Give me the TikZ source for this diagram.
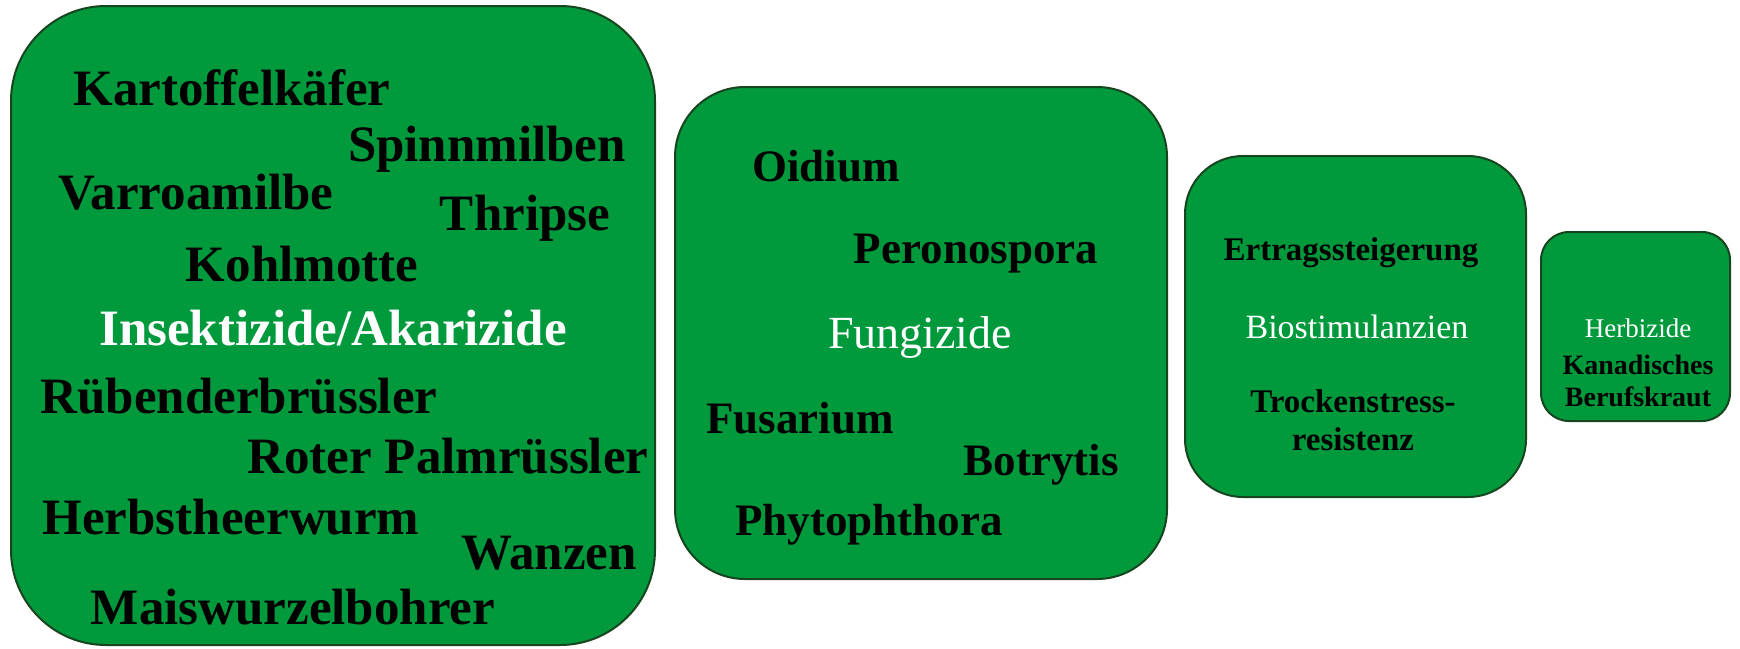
\documentclass[tikz,border=0pt]{standalone}
\usepackage{fontspec}
\setmainfont{Liberation Serif}
\usepackage{xcolor}
\definecolor{leafgreen}{HTML}{009A3D}
\definecolor{leafdark}{HTML}{17451F}
\usetikzlibrary{positioning}
\tikzset{
  gbox/.style={draw=leafdark, fill=leafgreen, line width=2pt, inner sep=0pt},
  big/.style={anchor=base, inner sep=0pt, text=black,
              font=\fontsize{51}{58}\selectfont\bfseries},
  mid/.style={big, font=\fontsize{45}{52}\selectfont\bfseries},
  small/.style={big, align=center, font=\fontsize{33}{38}\selectfont\bfseries},
  tiny/.style={big, align=center, font=\fontsize{28}{32}\selectfont\bfseries},
  cat/.style={anchor=base, inner sep=0pt, text=white},
}

\begin{document}
\begin{tikzpicture}[x=1pt, y=-1pt, node distance=18pt]
  \useasboundingbox (0,0) rectangle (1740,648);
  % boxes
  \node[gbox, rounded corners=95pt, minimum width=644pt, minimum height=639pt] (ins) at (333,325.5) {};
  \node[gbox, rounded corners=70pt, minimum width=492pt, minimum height=492pt,
        right=of ins, yshift=-7.5pt] (fun) {};
  \node[gbox, rounded corners=58pt, minimum width=341pt, minimum height=341pt,
        right=16pt of fun, yshift=6.5pt] (bio) {};
  \node[gbox, rounded corners=28pt, minimum width=189pt, minimum height=189pt,
        right=13pt of bio] (herb) {};
  % Insektizide/Akarizide
  \node[big] (kart) at (232,105) {Kartoffelkäfer};
  \node[big] (spinn) at (487,161) {Spinnmilben};
  \node[big] (varroa) at (196,209) {Varroamilbe};
  \node[big] (thrip) at (525,230) {Thripse};
  \node[big] (kohl) at (302,281) {Kohlmotte};
  \node[big, text=white] (insl) at (333,345) {Insektizide/Akarizide};
  \node[big] (rueben) at (239,413) {Rübenderbrüssler};
  \node[big] (palm) at (448,473) {Roter Palmrüssler};
  \node[big] (herbst) at (231,534) {Herbstheerwurm};
  \node[big] (wanz) at (549,569) {Wanzen};
  \node[big] (mais) at (293,624) {Maiswurzelbohrer};
  % Fungizide
  \node[mid] (oid) at (826,181) {Oidium};
  \node[mid] (pero) at (976,263) {Peronospora};
  \node[cat, font=\fontsize{46}{52}\selectfont] (funl) at (920,348) {Fungizide};
  \node[mid] (fus) at (800,433) {Fusarium};
  \node[mid] (botr) at (1041,475) {Botrytis};
  \node[mid] (phyt) at (869,535) {Phytophthora};
  % Biostimulanzien
  \node[small] (ertr) at (1351,260) {Ertragssteigerung};
  \node[cat, font=\fontsize{34}{38}\selectfont] (biol) at (1357,338) {Biostimulanzien};
  \node[small] (trock) at (1353,450) {Trockenstress-\\resistenz};
  % Herbizide
  \node[cat, font=\fontsize{27}{32}\selectfont] (herbl) at (1638,337) {Herbizide};
  \node[tiny] (kanad) at (1638,406) {Kanadisches\\Berufskraut};
\end{tikzpicture}
\end{document}
